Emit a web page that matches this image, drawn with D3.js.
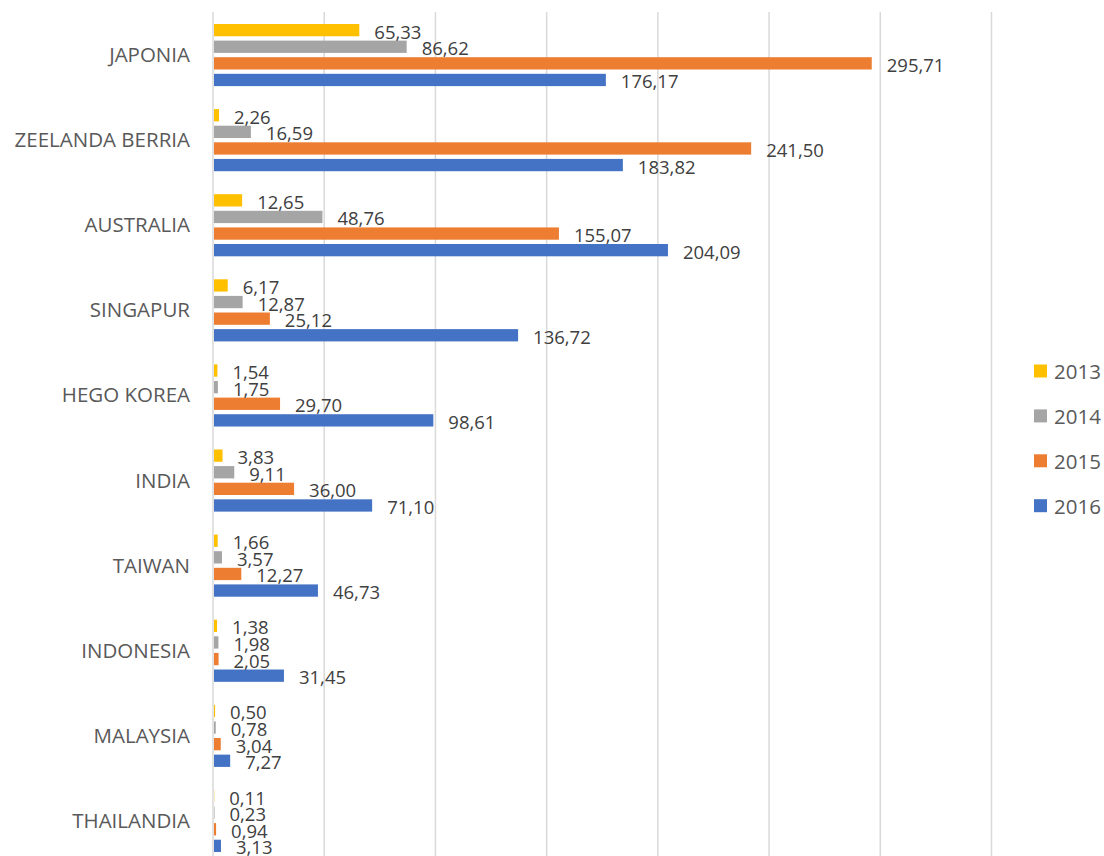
<!DOCTYPE html>
<html>
<head>
<meta charset="utf-8">
<script src="https://cdn.jsdelivr.net/npm/d3@7"></script>
<style>
  html, body { margin: 0; padding: 0; background: #ffffff; }
  svg { display: block; }
  text { font-family: "Open Sans", "Noto Sans", sans-serif; }
</style>
</head>
<body>
<svg id="chart" width="1104" height="856"></svg>
<script>
// Countries, top to bottom
const categories = ["JAPONIA", "ZEELANDA BERRIA", "AUSTRALIA", "SINGAPUR", "HEGO KOREA",
  "INDIA", "TAIWAN", "INDONESIA", "MALAYSIA", "THAILANDIA"];

// Series (years) and their values per country
const years = ["2013", "2014", "2015", "2016"];
const values2013 = [65.33, 2.26, 12.65, 6.17, 1.54, 3.83, 1.66, 1.38, 0.50, 0.11];
const values2014 = [86.62, 16.59, 48.76, 12.87, 1.75, 9.11, 3.57, 1.98, 0.78, 0.23];
const values2015 = [295.71, 241.50, 155.07, 25.12, 29.70, 36.00, 12.27, 2.05, 3.04, 0.94];
const values2016 = [176.17, 183.82, 204.09, 136.72, 98.61, 71.10, 46.73, 31.45, 7.27, 3.13];
const seriesValues = [values2013, values2014, values2015, values2016];

// Gridline ticks along the value axis
const xTicks = [0, 50, 100, 150, 200, 250, 300, 350];

const colors = ["#FFC000", "#A5A5A5", "#ED7D31", "#4472C4"];

const svg = d3.select("#chart");

const x = d3.scaleLinear().domain([0, 350]).range([213, 991.5]);

const y = d3.scaleBand()
  .domain(categories)
  .range([12.5, 863.5])
  .paddingInner(0.27)
  .paddingOuter(0.135);

const ySub = d3.scaleBand()
  .domain(years)
  .range([0, y.bandwidth()])
  .paddingInner(0.26)
  .paddingOuter(0);

const color = d3.scaleOrdinal().domain(years).range(colors);

// Vertical gridlines
svg.append("g")
  .selectAll("line")
  .data(xTicks)
  .join("line")
  .attr("x1", d => x(d))
  .attr("x2", d => x(d))
  .attr("y1", 12)
  .attr("y2", 856)
  .attr("stroke", "#d9d9d9")
  .attr("stroke-width", 1.5);

// Category labels
svg.append("g")
  .selectAll("text")
  .data(categories)
  .join("text")
  .attr("x", 190)
  .attr("y", d => y(d) + y.bandwidth() / 2 - 1)
  .attr("text-anchor", "end")
  .attr("dominant-baseline", "central")
  .attr("font-size", 20.5)
  .attr("fill", "#595959")
  .text(d => d);

// Flatten into one record per bar
const records = [];
categories.forEach((c, i) => {
  years.forEach((yr, j) => {
    records.push({ cat: c, year: yr, value: seriesValues[j][i] });
  });
});

const fmt = v => d3.format(".2f")(v).replace(".", ",");

const bars = svg.append("g");
bars.selectAll("rect")
  .data(records)
  .join("rect")
  .attr("x", x(0) + 1)
  .attr("y", d => y(d.cat) + ySub(d.year))
  .attr("width", d => Math.max(0, x(d.value) - x(0)))
  .attr("height", ySub.bandwidth())
  .attr("fill", d => color(d.year));

// Value labels
svg.append("g")
  .selectAll("text")
  .data(records)
  .join("text")
  .attr("x", d => x(d.value) + 16)
  .attr("y", d => y(d.cat) + ySub(d.year) + ySub.bandwidth() / 2 + 1)
  .attr("dominant-baseline", "central")
  .attr("font-size", 18.5)
  .attr("fill", "#404040")
  .text(d => fmt(d.value));

// Legend
const legend = svg.append("g")
  .selectAll("g")
  .data(years)
  .join("g")
  .attr("transform", (d, i) => `translate(1034, ${371 + i * 44.9})`);

legend.append("rect")
  .attr("x", 0)
  .attr("y", -6.5)
  .attr("width", 13)
  .attr("height", 13)
  .attr("fill", d => color(d));

legend.append("text")
  .attr("x", 20)
  .attr("y", 0)
  .attr("dominant-baseline", "central")
  .attr("font-size", 20.5)
  .attr("fill", "#595959")
  .text(d => d);
</script>
</body>
</html>
